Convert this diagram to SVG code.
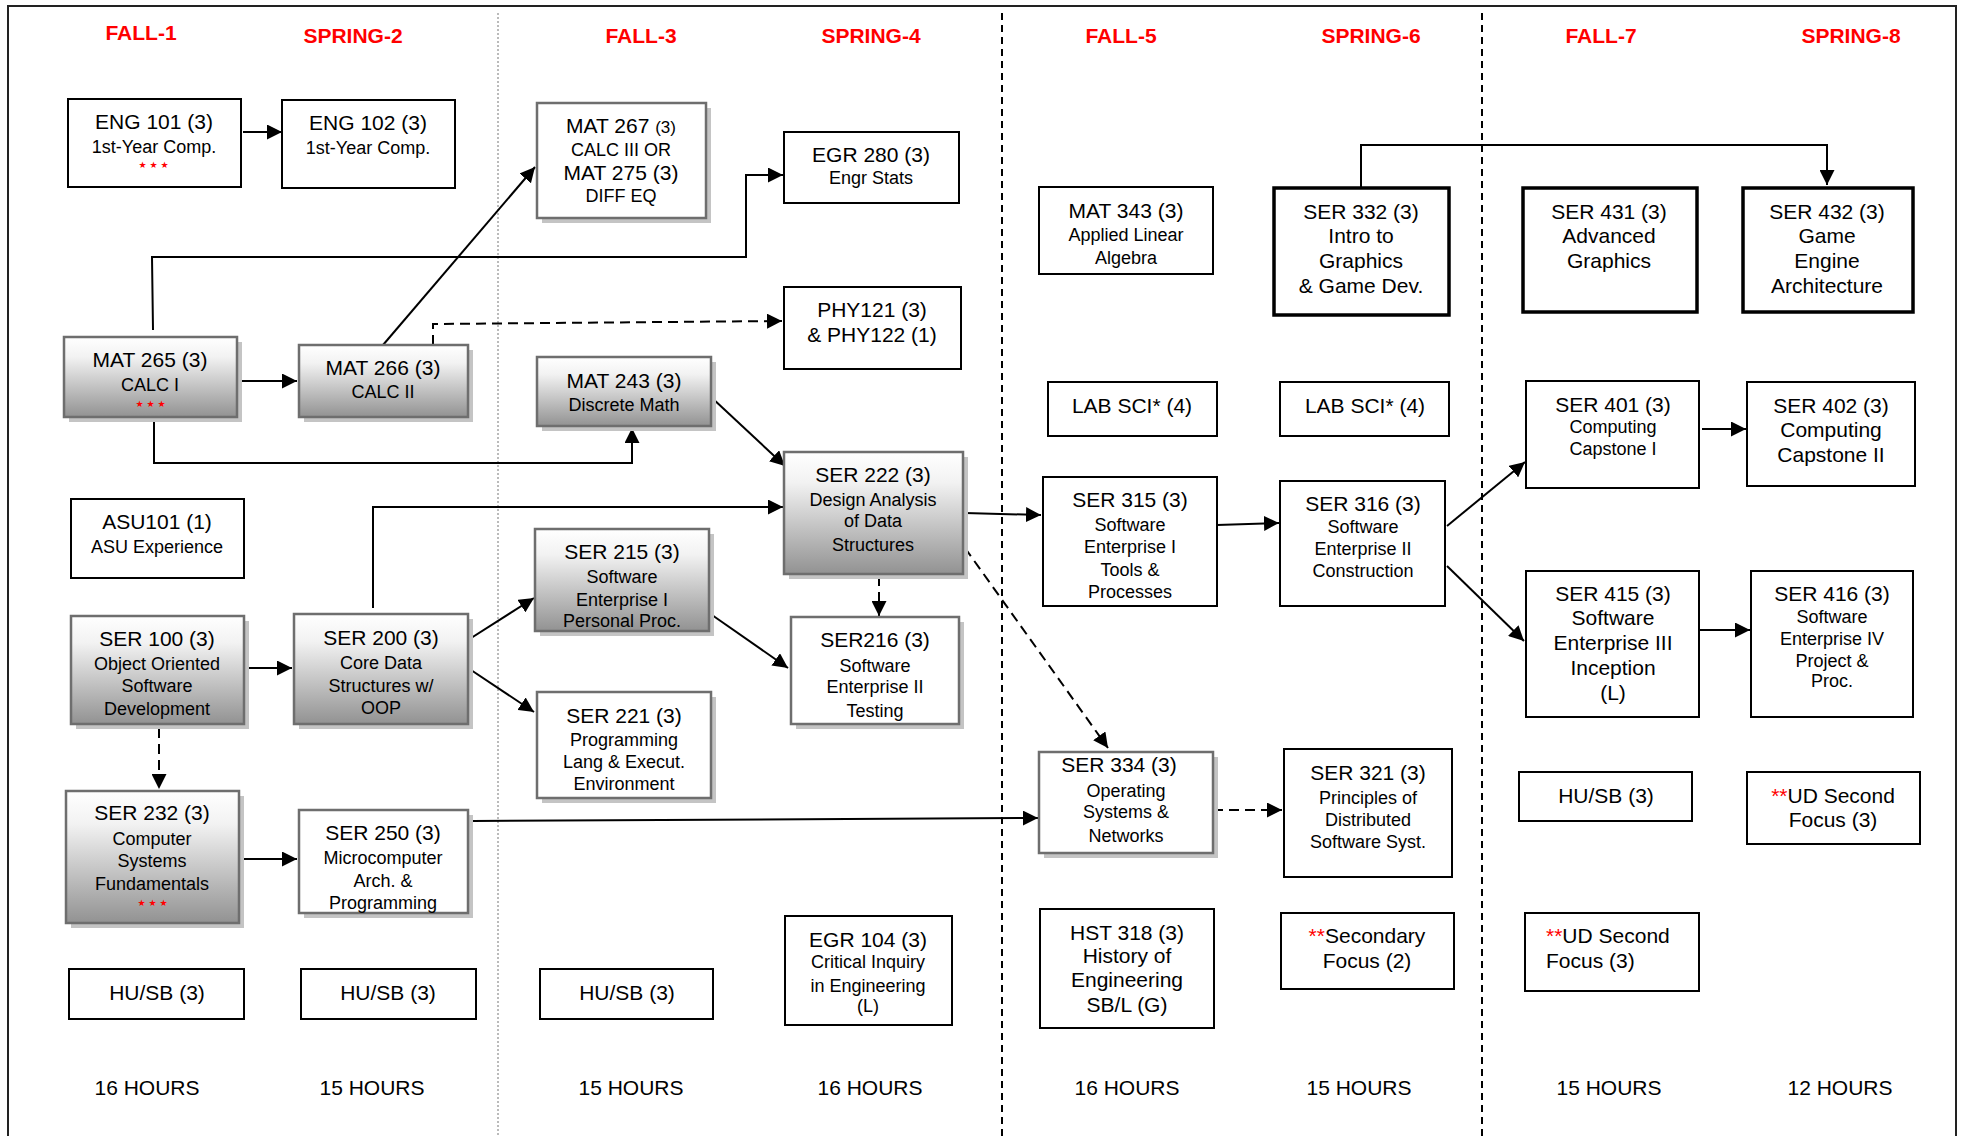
<svg xmlns="http://www.w3.org/2000/svg" width="1961" height="1136" viewBox="0 0 1961 1136">
<defs>
<linearGradient id="g" x1="0" y1="0" x2="0" y2="1">
<stop offset="0" stop-color="#ffffff"/>
<stop offset="0.25" stop-color="#f2f2f2"/>
<stop offset="1" stop-color="#929292"/>
</linearGradient>
<marker id="a" viewBox="0 0 15 15" refX="15" refY="7.5" markerWidth="15" markerHeight="15" markerUnits="userSpaceOnUse" orient="auto">
<path d="M0,0 L15,7.5 L0,15 z" fill="#000"/>
</marker>
<style>
text{font-family:"Liberation Sans",Arial,sans-serif;fill:#000;text-anchor:middle}
.t{font-size:21px}
.s{font-size:18px}
.sm{font-size:17px}
.sem{font-size:21px;font-weight:bold;fill:#ff0000}
.hr{font-size:21px}
.st{font-family:"DejaVu Sans",sans-serif;font-size:9px;fill:#ff0000;letter-spacing:3px}
.r{fill:#ff0000}
.bx{fill:#fff;stroke:#000;stroke-width:2}
.thk{fill:#fff;stroke:#000;stroke-width:3.5}
.gr{fill:url(#g);stroke:#6e6e6e;stroke-width:2.5}
.wg{fill:#fff;stroke:#6e6e6e;stroke-width:2.5}
.sh{fill:#c4c4c4}
.c{fill:none;stroke:#000;stroke-width:2}
.d{fill:none;stroke:#000;stroke-width:2;stroke-dasharray:10 6}
</style>
</defs>
<rect x="0" y="0" width="1961" height="1136" fill="#fff"/>
<g id="frame">
<path d="M8,1136 V6 H1956 V1136" fill="none" stroke="#222" stroke-width="2"/>
<line x1="498" y1="13" x2="498" y2="1136" stroke="#777" stroke-width="1" stroke-dasharray="2 2"/>
<line x1="1002" y1="13" x2="1002" y2="1136" stroke="#000" stroke-width="2" stroke-dasharray="7 5"/>
<line x1="1482" y1="13" x2="1482" y2="1136" stroke="#000" stroke-width="2" stroke-dasharray="7 5"/>
</g>
<g id="semesters">
<text class="sem" x="141" y="40">FALL-1</text>
<text class="sem" x="353" y="43">SPRING-2</text>
<text class="sem" x="641" y="43">FALL-3</text>
<text class="sem" x="871" y="43">SPRING-4</text>
<text class="sem" x="1121" y="43">FALL-5</text>
<text class="sem" x="1371" y="43">SPRING-6</text>
<text class="sem" x="1601" y="43">FALL-7</text>
<text class="sem" x="1851" y="43">SPRING-8</text>
</g>
<g id="hours">
<text class="hr" x="147" y="1095">16 HOURS</text>
<text class="hr" x="372" y="1095">15 HOURS</text>
<text class="hr" x="631" y="1095">15 HOURS</text>
<text class="hr" x="870" y="1095">16 HOURS</text>
<text class="hr" x="1127" y="1095">16 HOURS</text>
<text class="hr" x="1359" y="1095">15 HOURS</text>
<text class="hr" x="1609" y="1095">15 HOURS</text>
<text class="hr" x="1840" y="1095">12 HOURS</text>
</g>
<g id="connectors">
<path class="c" d="M243,132 H282" marker-end="url(#a)"/>
<path class="c" d="M241,381 H297" marker-end="url(#a)"/>
<path class="c" d="M153,330 L152,257 H746 V175 H783" marker-end="url(#a)"/>
<path class="c" d="M383,345 L535,167" marker-end="url(#a)"/>
<path class="d" d="M433,345 V324 L782,321" marker-end="url(#a)"/>
<path class="c" d="M154,417 V463 H632 V428" marker-end="url(#a)"/>
<path class="c" d="M711,397 L785,466" marker-end="url(#a)"/>
<path class="c" d="M248,668 H292" marker-end="url(#a)"/>
<path class="d" d="M159,728 V789" marker-end="url(#a)"/>
<path class="c" d="M243,859 H297" marker-end="url(#a)"/>
<path class="c" d="M373,608 V507 H783" marker-end="url(#a)"/>
<path class="c" d="M468,640 L534,598" marker-end="url(#a)"/>
<path class="c" d="M468,668 L534,712" marker-end="url(#a)"/>
<path class="c" d="M473,821 L1038,818" marker-end="url(#a)"/>
<path class="c" d="M712,615 L788,668" marker-end="url(#a)"/>
<path class="d" d="M879,576 V616" marker-end="url(#a)"/>
<path class="c" d="M965,513 L1041,515" marker-end="url(#a)"/>
<path class="d" d="M965,548 L1108,748" marker-end="url(#a)"/>
<path class="c" d="M1217,525 L1279,523" marker-end="url(#a)"/>
<path class="d" d="M1213,810 H1282" marker-end="url(#a)"/>
<path class="c" d="M1447,526 L1525,462" marker-end="url(#a)"/>
<path class="c" d="M1447,566 L1524,641" marker-end="url(#a)"/>
<path class="c" d="M1702,429 H1746" marker-end="url(#a)"/>
<path class="c" d="M1699,630 H1750" marker-end="url(#a)"/>
<path class="c" d="M1361,187 V145 H1827 V185" marker-end="url(#a)"/>
</g>
<g id="eng101"><rect class="bx" x="68" y="99" width="173" height="88"/>
<text class="t" x="154" y="129">ENG 101 (3)</text><text class="s" x="154" y="153">1st-Year Comp.</text><text class="st" x="155" y="168">★★★</text></g>
<g id="eng102"><rect class="bx" x="282" y="100" width="173" height="88"/>
<text class="t" x="368" y="130">ENG 102 (3)</text><text class="s" x="368" y="154">1st-Year Comp.</text></g>
<g id="mat265"><rect class="sh" x="69" y="342" width="173" height="80"/><rect class="gr" x="64" y="337" width="173" height="80"/>
<text class="t" x="150" y="367">MAT 265 (3)</text><text class="s" x="150" y="391">CALC I</text><text class="st" x="152" y="407">★★★</text></g>
<g id="mat266"><rect class="sh" x="304" y="350" width="169" height="72"/><rect class="gr" x="299" y="345" width="169" height="72"/>
<text class="t" x="383" y="375">MAT 266 (3)</text><text class="s" x="383" y="398">CALC II</text></g>
<g id="mat267"><rect class="sh" x="542" y="108" width="169" height="115"/><rect class="wg" x="537" y="103" width="169" height="115"/>
<text class="t" x="621" y="133">MAT 267 <tspan class="sm">(3)</tspan></text><text class="s" x="621" y="156">CALC III OR</text><text class="t" x="621" y="180">MAT 275 (3)</text><text class="s" x="621" y="202">DIFF EQ</text></g>
<g id="egr280"><rect class="bx" x="784" y="132" width="175" height="71"/>
<text class="t" x="871" y="162">EGR 280 (3)</text><text class="s" x="871" y="184">Engr Stats</text></g>
<g id="phy121"><rect class="bx" x="784" y="287" width="177" height="82"/>
<text class="t" x="872" y="317">PHY121 (3)</text><text class="t" x="872" y="342">&amp; PHY122 (1)</text></g>
<g id="mat243"><rect class="sh" x="542" y="362" width="174" height="69"/><rect class="gr" x="537" y="357" width="174" height="69"/>
<text class="t" x="624" y="388">MAT 243 (3)</text><text class="s" x="624" y="411">Discrete Math</text></g>
<g id="asu101"><rect class="bx" x="71" y="499" width="173" height="79"/>
<text class="t" x="157" y="529">ASU101 (1)</text><text class="s" x="157" y="553">ASU Experience</text></g>
<g id="ser100"><rect class="sh" x="76" y="621" width="173" height="108"/><rect class="gr" x="71" y="616" width="173" height="108"/>
<text class="t" x="157" y="646">SER 100 (3)</text><text class="s" x="157" y="670">Object Oriented</text><text class="s" x="157" y="692">Software</text><text class="s" x="157" y="715">Development</text></g>
<g id="ser200"><rect class="sh" x="299" y="619" width="174" height="110"/><rect class="gr" x="294" y="614" width="174" height="110"/>
<text class="t" x="381" y="645">SER 200 (3)</text><text class="s" x="381" y="669">Core Data</text><text class="s" x="381" y="692">Structures w/</text><text class="s" x="381" y="714">OOP</text></g>
<g id="ser232"><rect class="sh" x="71" y="796" width="173" height="132"/><rect class="gr" x="66" y="791" width="173" height="132"/>
<text class="t" x="152" y="820">SER 232 (3)</text><text class="s" x="152" y="845">Computer</text><text class="s" x="152" y="867">Systems</text><text class="s" x="152" y="890">Fundamentals</text><text class="st" x="154" y="906">★★★</text></g>
<g id="ser250"><rect class="sh" x="304" y="815" width="169" height="103"/><rect class="wg" x="299" y="810" width="169" height="103"/>
<text class="t" x="383" y="840">SER 250 (3)</text><text class="s" x="383" y="864">Microcomputer</text><text class="s" x="383" y="887">Arch. &amp;</text><text class="s" x="383" y="909">Programming</text></g>
<g id="ser215"><rect class="sh" x="540" y="534" width="174" height="102"/><rect class="gr" x="535" y="529" width="174" height="102"/>
<text class="t" x="622" y="559">SER 215 (3)</text><text class="s" x="622" y="583">Software</text><text class="s" x="622" y="606">Enterprise I</text><text class="s" x="622" y="627">Personal Proc.</text></g>
<g id="ser221"><rect class="sh" x="542" y="697" width="174" height="106"/><rect class="wg" x="537" y="692" width="174" height="106"/>
<text class="t" x="624" y="723">SER 221 (3)</text><text class="s" x="624" y="746">Programming</text><text class="s" x="624" y="768">Lang &amp; Execut.</text><text class="s" x="624" y="790">Environment</text></g>
<g id="ser222"><rect class="sh" x="789" y="457" width="179" height="122"/><rect class="gr" x="784" y="452" width="179" height="122"/>
<text class="t" x="873" y="482">SER 222 (3)</text><text class="s" x="873" y="506">Design Analysis</text><text class="s" x="873" y="527">of Data</text><text class="s" x="873" y="551">Structures</text></g>
<g id="ser216"><rect class="sh" x="796" y="622" width="168" height="107"/><rect class="wg" x="791" y="617" width="168" height="107"/>
<text class="t" x="875" y="647">SER216 (3)</text><text class="s" x="875" y="672">Software</text><text class="s" x="875" y="693">Enterprise II</text><text class="s" x="875" y="717">Testing</text></g>
<g id="husb1"><rect class="bx" x="69" y="969" width="175" height="50"/><text class="t" x="157" y="1000">HU/SB (3)</text></g>
<g id="husb2"><rect class="bx" x="301" y="969" width="175" height="50"/><text class="t" x="388" y="1000">HU/SB (3)</text></g>
<g id="husb3"><rect class="bx" x="540" y="969" width="173" height="50"/><text class="t" x="627" y="1000">HU/SB (3)</text></g>
<g id="egr104"><rect class="bx" x="785" y="916" width="167" height="109"/>
<text class="t" x="868" y="947">EGR 104 (3)</text><text class="s" x="868" y="968">Critical Inquiry</text><text class="s" x="868" y="992">in Engineering</text><text class="s" x="868" y="1012">(L)</text></g>
<g id="mat343"><rect class="bx" x="1039" y="187" width="174" height="87"/>
<text class="t" x="1126" y="218">MAT 343 (3)</text><text class="s" x="1126" y="241">Applied Linear</text><text class="s" x="1126" y="264">Algebra</text></g>
<g id="ser332"><rect class="thk" x="1274" y="188" width="175" height="127"/>
<text class="t" x="1361" y="219">SER 332 (3)</text><text class="t" x="1361" y="243">Intro to</text><text class="t" x="1361" y="268">Graphics</text><text class="t" x="1361" y="293">&amp; Game Dev.</text></g>
<g id="labsci1"><rect class="bx" x="1048" y="382" width="169" height="54"/><text class="t" x="1132" y="413">LAB SCI* (4)</text></g>
<g id="labsci2"><rect class="bx" x="1280" y="382" width="169" height="54"/><text class="t" x="1365" y="413">LAB SCI* (4)</text></g>
<g id="ser315"><rect class="bx" x="1043" y="477" width="174" height="129"/>
<text class="t" x="1130" y="507">SER 315 (3)</text><text class="s" x="1130" y="531">Software</text><text class="s" x="1130" y="553">Enterprise I</text><text class="s" x="1130" y="576">Tools &amp;</text><text class="s" x="1130" y="598">Processes</text></g>
<g id="ser316"><rect class="bx" x="1280" y="481" width="165" height="125"/>
<text class="t" x="1363" y="511">SER 316 (3)</text><text class="s" x="1363" y="533">Software</text><text class="s" x="1363" y="555">Enterprise II</text><text class="s" x="1363" y="577">Construction</text></g>
<g id="ser334"><rect class="sh" x="1044" y="757" width="174" height="101"/><rect class="wg" x="1039" y="752" width="174" height="101"/>
<text class="t" x="1119" y="772">SER 334 (3)</text><text class="s" x="1126" y="797">Operating</text><text class="s" x="1126" y="818">Systems &amp;</text><text class="s" x="1126" y="842">Networks</text></g>
<g id="ser321"><rect class="bx" x="1284" y="749" width="168" height="128"/>
<text class="t" x="1368" y="780">SER 321 (3)</text><text class="s" x="1368" y="804">Principles of</text><text class="s" x="1368" y="826">Distributed</text><text class="s" x="1368" y="848">Software Syst.</text></g>
<g id="hst318"><rect class="bx" x="1040" y="909" width="174" height="119"/>
<text class="t" x="1127" y="940">HST 318 (3)</text><text class="t" x="1127" y="963">History of</text><text class="t" x="1127" y="987">Engineering</text><text class="t" x="1127" y="1012">SB/L (G)</text></g>
<g id="secondary"><rect class="bx" x="1281" y="913" width="173" height="76"/>
<text class="t" x="1367" y="943"><tspan class="r">**</tspan>Secondary</text><text class="t" x="1367" y="968">Focus (2)</text></g>
<g id="ser431"><rect class="thk" x="1523" y="188" width="174" height="124"/>
<text class="t" x="1609" y="219">SER 431 (3)</text><text class="t" x="1609" y="243">Advanced</text><text class="t" x="1609" y="268">Graphics</text></g>
<g id="ser432"><rect class="thk" x="1743" y="188" width="170" height="124"/>
<text class="t" x="1827" y="219">SER 432 (3)</text><text class="t" x="1827" y="243">Game</text><text class="t" x="1827" y="268">Engine</text><text class="t" x="1827" y="293">Architecture</text></g>
<g id="ser401"><rect class="bx" x="1526" y="381" width="173" height="107"/>
<text class="t" x="1613" y="412">SER 401 (3)</text><text class="s" x="1613" y="433">Computing</text><text class="s" x="1613" y="455">Capstone I</text></g>
<g id="ser402"><rect class="bx" x="1747" y="382" width="168" height="104"/>
<text class="t" x="1831" y="413">SER 402 (3)</text><text class="t" x="1831" y="437">Computing</text><text class="t" x="1831" y="462">Capstone II</text></g>
<g id="ser415"><rect class="bx" x="1526" y="571" width="173" height="146"/>
<text class="t" x="1613" y="601">SER 415 (3)</text><text class="t" x="1613" y="625">Software</text><text class="t" x="1613" y="650">Enterprise III</text><text class="t" x="1613" y="675">Inception</text><text class="t" x="1613" y="700">(L)</text></g>
<g id="ser416"><rect class="bx" x="1751" y="571" width="162" height="146"/>
<text class="t" x="1832" y="601">SER 416 (3)</text><text class="s" x="1832" y="623">Software</text><text class="s" x="1832" y="645">Enterprise IV</text><text class="s" x="1832" y="667">Project &amp;</text><text class="s" x="1832" y="687">Proc.</text></g>
<g id="husb7"><rect class="bx" x="1519" y="772" width="173" height="49"/><text class="t" x="1606" y="803">HU/SB (3)</text></g>
<g id="udfocus8"><rect class="bx" x="1747" y="772" width="173" height="72"/>
<text class="t" x="1833" y="803"><tspan class="r">**</tspan>UD Second</text><text class="t" x="1833" y="827">Focus (3)</text></g>
<g id="udfocus7"><rect class="bx" x="1525" y="913" width="174" height="78"/>
<text class="t" x="1546" y="943" style="text-anchor:start"><tspan class="r">**</tspan>UD Second</text><text class="t" x="1546" y="968" style="text-anchor:start">Focus (3)</text></g>
</svg>
